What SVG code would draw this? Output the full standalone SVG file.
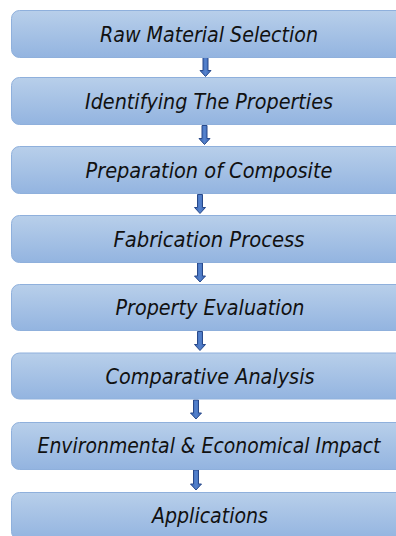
<svg xmlns="http://www.w3.org/2000/svg" width="396" height="536" viewBox="0 0 396 536">
  <defs>
    <linearGradient id="boxFill" x1="0" y1="0" x2="0" y2="1">
      <stop offset="0" stop-color="#b8cfea"/>
      <stop offset="1" stop-color="#93b4e0"/>
    </linearGradient>
    <linearGradient id="arrowFill" x1="0" y1="0" x2="1" y2="0">
      <stop offset="0" stop-color="#3562b3"/>
      <stop offset="0.5" stop-color="#5582cc"/>
      <stop offset="1" stop-color="#3562b3"/>
    </linearGradient>
  </defs>
  <style>
    .box { fill: url(#boxFill); stroke: #8fb0dc; stroke-width: 1; }
    .label { font-family: "DejaVu Sans Condensed", "Liberation Sans", sans-serif; font-style: italic; font-size: 21px; fill: #111111; text-anchor: middle; }
    .arrow { fill: url(#arrowFill); stroke: #28498a; stroke-width: 1; stroke-linejoin: miter; }
  </style>
  <rect width="396" height="536" fill="#ffffff"/>

  <g id="connectors">
    <path class="arrow" d="M203,57.5 h5 v13 h3 l-5.5,6 l-5.5,-6 h3 z"/>
    <path class="arrow" d="M202,125.5 h5 v13 h3 l-5.5,6 l-5.5,-6 h3 z"/>
    <path class="arrow" d="M197.5,194.5 h5 v13 h3 l-5.5,6 l-5.5,-6 h3 z"/>
    <path class="arrow" d="M197.5,263 h5 v13 h3 l-5.5,6 l-5.5,-6 h3 z"/>
    <path class="arrow" d="M197.5,331.5 h5 v13 h3 l-5.5,6 l-5.5,-6 h3 z"/>
    <path class="arrow" d="M193.5,400 h5 v13 h3 l-5.5,6 l-5.5,-6 h3 z"/>
    <path class="arrow" d="M193.5,470 h5 v14 h3 l-5.5,6 l-5.5,-6 h3 z"/>
  </g>

  <g id="raw-material-selection">
    <rect class="box" x="11.5" y="10.5" width="400" height="47" rx="8"/>
    <text class="label" x="209" y="42" textLength="218" lengthAdjust="spacingAndGlyphs">Raw Material Selection</text>
  </g>
  <g id="identifying-properties">
    <rect class="box" x="11.5" y="77.5" width="400" height="47" rx="8"/>
    <text class="label" x="209" y="109" textLength="248" lengthAdjust="spacingAndGlyphs">Identifying The Properties</text>
  </g>
  <g id="preparation-of-composite">
    <rect class="box" x="11.5" y="146.5" width="400" height="47" rx="8"/>
    <text class="label" x="209" y="178" textLength="247" lengthAdjust="spacingAndGlyphs">Preparation of Composite</text>
  </g>
  <g id="fabrication-process">
    <rect class="box" x="11.5" y="215.5" width="400" height="47" rx="8"/>
    <text class="label" x="209" y="247" textLength="191" lengthAdjust="spacingAndGlyphs">Fabrication Process</text>
  </g>
  <g id="property-evaluation">
    <rect class="box" x="11.5" y="284.5" width="400" height="46" rx="8"/>
    <text class="label" x="210" y="315" textLength="189" lengthAdjust="spacingAndGlyphs">Property Evaluation</text>
  </g>
  <g id="comparative-analysis">
    <rect class="box" x="11.5" y="353" width="400" height="46" rx="8"/>
    <text class="label" x="210" y="384" textLength="209" lengthAdjust="spacingAndGlyphs">Comparative Analysis</text>
  </g>
  <g id="environmental-economical-impact">
    <rect class="box" x="11.5" y="422.5" width="400" height="47" rx="8"/>
    <text class="label" x="209" y="453" textLength="343" lengthAdjust="spacingAndGlyphs">Environmental &amp; Economical Impact</text>
  </g>
  <g id="applications">
    <rect class="box" x="11.5" y="492.5" width="400" height="47" rx="8"/>
    <text class="label" x="210" y="523" textLength="116" lengthAdjust="spacingAndGlyphs">Applications</text>
  </g>
</svg>
